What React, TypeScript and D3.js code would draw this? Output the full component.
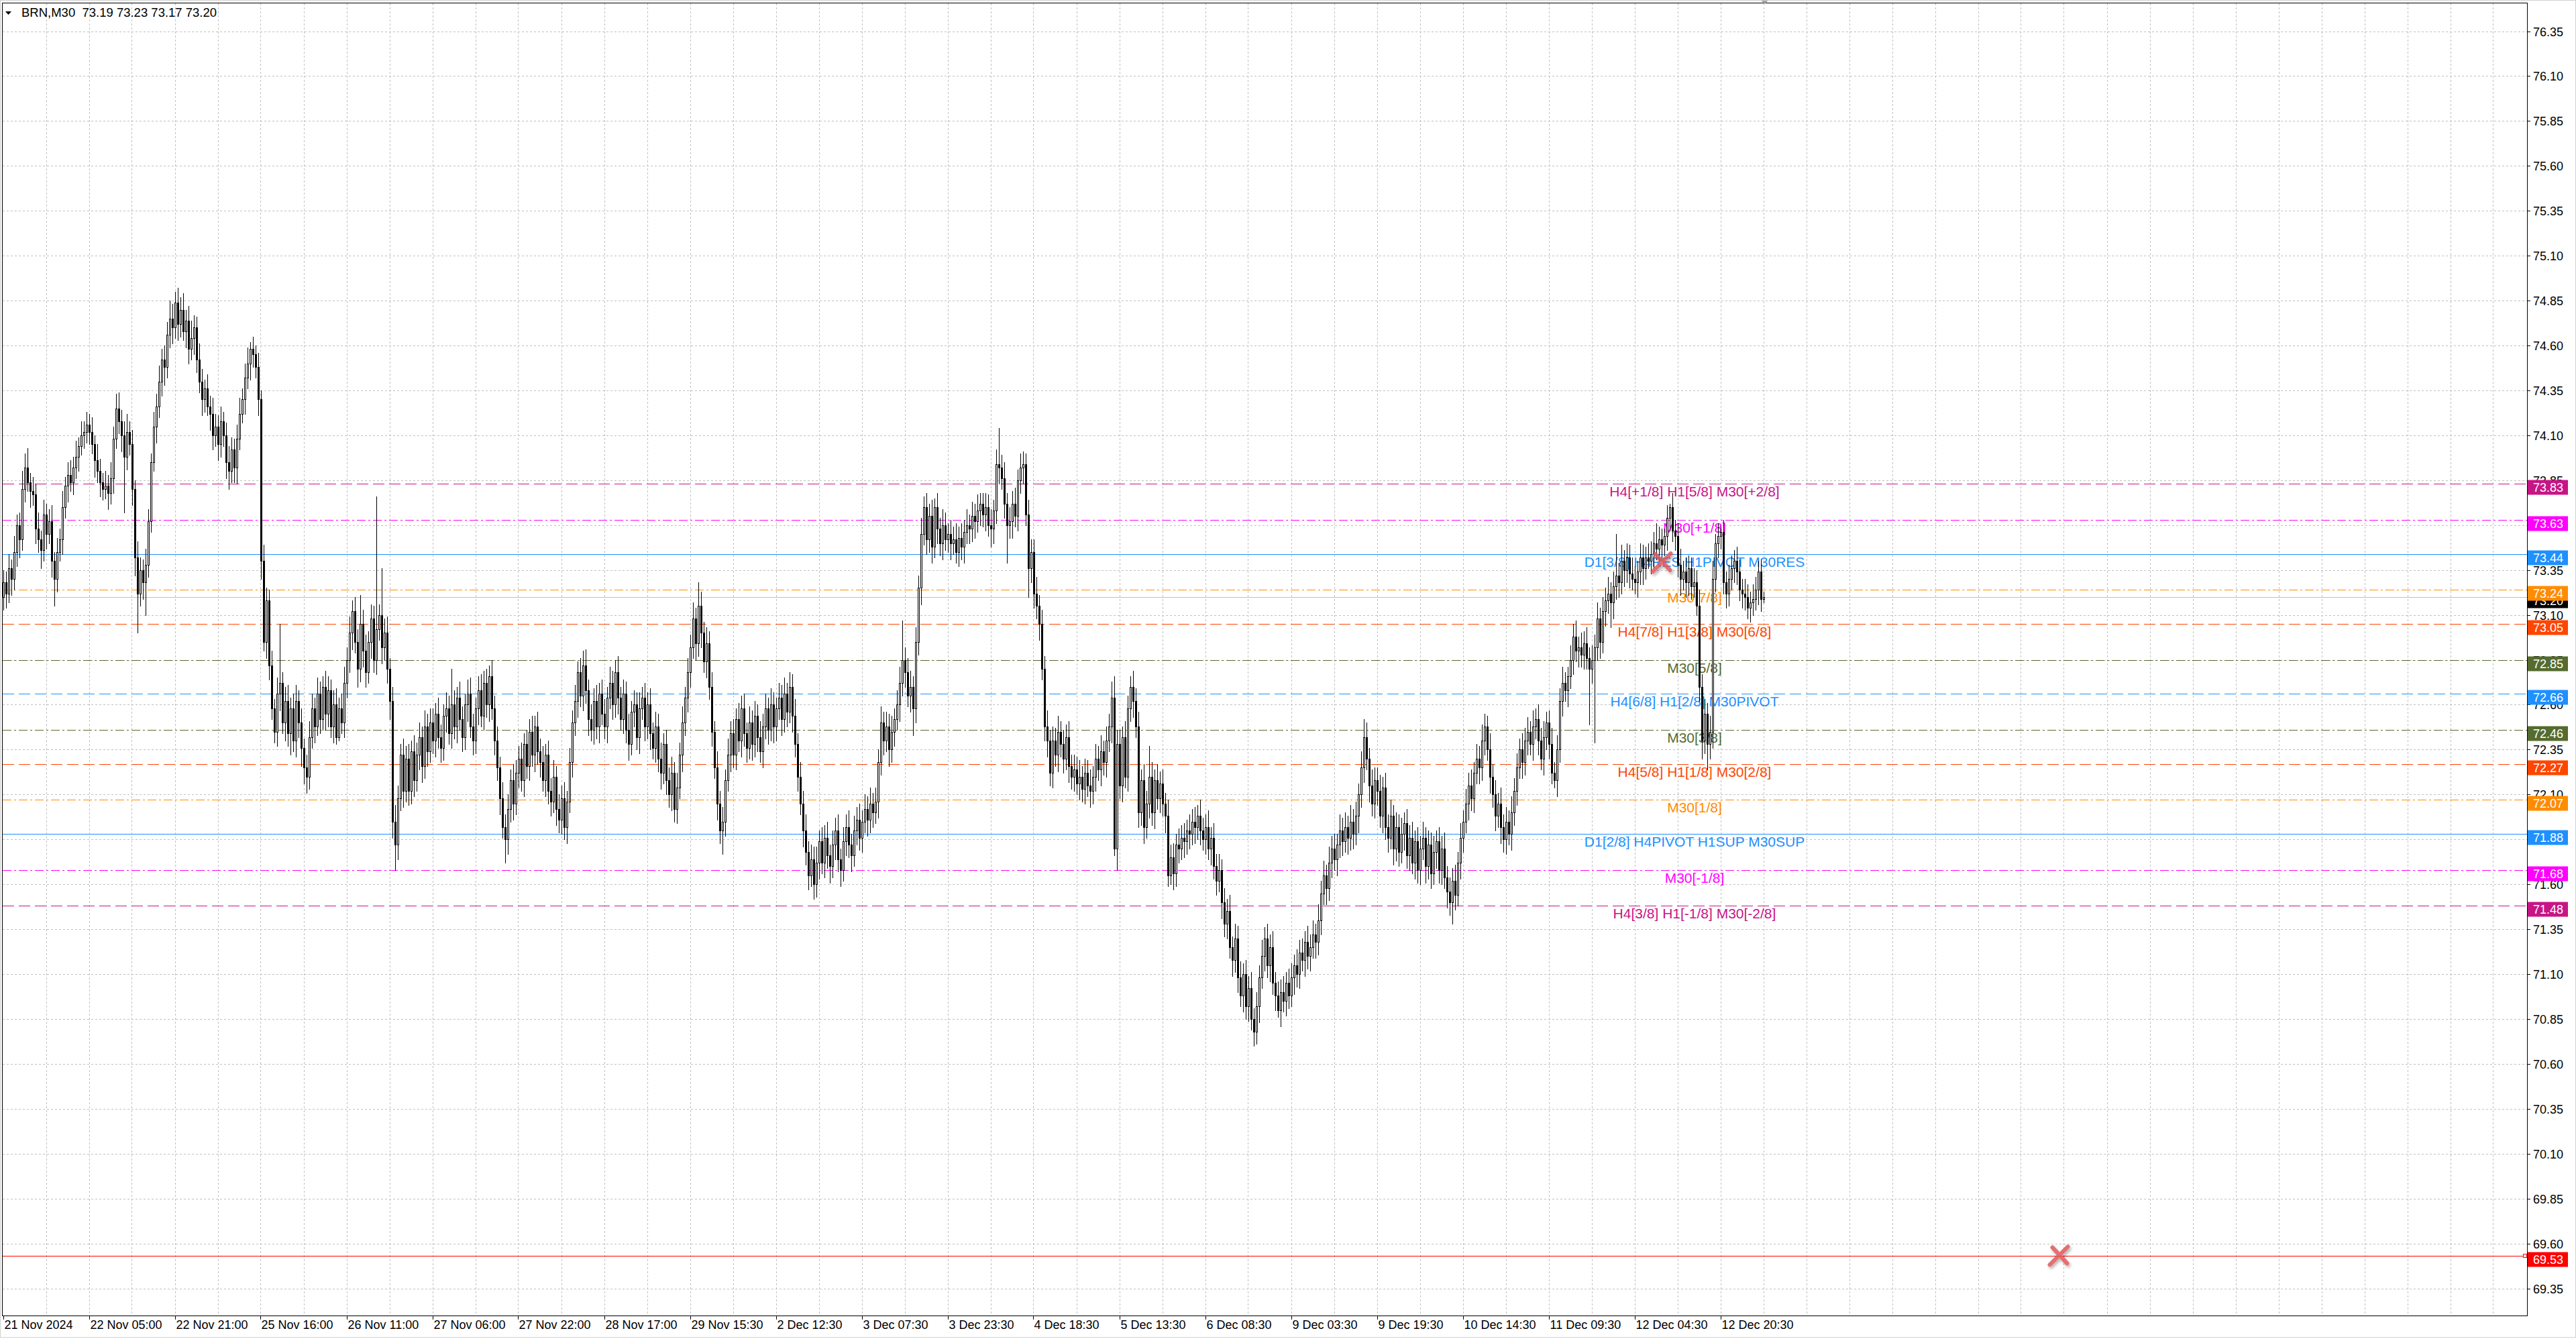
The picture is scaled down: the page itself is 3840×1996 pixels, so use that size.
import React from "react";
import * as d3 from "d3";

// BRN M30 candles, 21 Nov 13:00 .. 13 Dec 04:30 (open of each bar = previous close)
const symbolTitle = "BRN,M30";
const lastQuote = ["73.19", "73.23", "73.17", "73.20"];
const firstOpen = 73.2;

const closes = [
  // 21 Nov 2024
  73.28,73.22,73.36,73.30,73.45,73.60,73.52,73.80,73.92,73.84,73.79,73.77,73.58,73.52,73.46,73.66,73.55,73.62,73.40,73.30,73.45,73.52,73.70,73.82,73.88,73.84,73.92,73.98,74.04,74.10,74.12,74.16,
  // 22 Nov 05:00
  74.12,74.05,73.96,73.90,73.84,73.80,73.82,73.78,73.86,74.08,74.25,74.18,74.10,73.98,74.12,74.05,73.80,73.42,73.22,73.35,73.28,73.38,73.62,73.95,74.15,74.26,74.40,74.52,74.48,74.66,74.75,74.70,
  // 22 Nov 21:00
  74.84,74.72,74.80,74.68,74.74,74.58,74.64,74.70,74.52,74.40,74.30,74.36,74.26,74.22,74.10,74.15,74.05,74.18,74.10,73.95,73.90,74.02,73.92,74.08,74.22,74.30,74.42,74.50,74.58,74.55,74.48,74.30,
  // 25 Nov 16:00
  73.40,72.95,73.18,72.82,72.58,72.45,72.66,72.72,72.50,72.62,72.44,72.58,72.40,72.62,72.50,72.36,72.25,72.20,72.42,72.58,72.48,72.66,72.52,72.70,72.55,72.68,72.48,72.60,72.42,72.58,72.50,72.72,
  // 26 Nov 11:00
  72.85,73.00,73.12,72.95,72.80,73.05,72.90,72.78,72.95,73.08,72.85,73.02,73.10,72.92,73.00,72.80,72.62,71.95,71.82,72.08,72.32,72.12,72.30,72.12,72.34,72.18,72.32,72.42,72.26,72.48,72.34,72.50,
  // 27 Nov 06:00
  72.40,72.55,72.42,72.36,72.54,72.58,72.44,72.60,72.48,72.64,72.52,72.42,72.60,72.66,72.48,72.40,72.58,72.68,72.54,72.72,72.60,72.76,72.58,72.40,72.25,72.08,71.92,71.85,72.02,72.18,72.05,72.22,
  // 27 Nov 22:00
  72.30,72.18,72.38,72.26,72.45,72.32,72.48,72.34,72.28,72.18,72.32,72.12,72.06,72.20,72.02,71.96,72.08,71.92,72.06,72.28,72.50,72.62,72.78,72.65,72.82,72.68,72.52,72.46,72.62,72.48,72.66,72.55,
  // 28 Nov 17:00
  72.48,72.64,72.72,72.60,72.78,72.64,72.52,72.66,72.46,72.38,72.56,72.60,72.42,72.58,72.64,72.48,72.60,72.44,72.36,72.48,72.30,72.22,72.38,72.18,72.10,72.22,72.02,72.14,72.32,72.50,72.64,72.78,
  // 29 Nov 15:30
  72.92,73.08,72.94,73.15,73.00,72.84,72.94,72.70,72.45,72.25,72.05,71.90,71.95,72.18,72.32,72.44,72.32,72.52,72.40,72.58,72.44,72.36,72.50,72.38,72.54,72.42,72.34,72.48,72.58,72.46,72.60,72.48,
  // 2 Dec 12:30
  72.58,72.64,72.52,72.66,72.56,72.70,72.54,72.38,72.20,72.05,71.90,71.78,71.65,71.74,71.60,71.72,71.84,71.72,71.86,71.76,71.70,71.82,71.90,71.74,71.68,71.84,71.92,71.82,71.76,71.90,71.96,71.86,
  // 3 Dec 07:30
  71.95,72.02,71.96,72.05,72.00,72.06,72.28,72.50,72.40,72.48,72.35,72.45,72.52,72.60,72.72,72.85,72.78,72.65,72.70,72.58,72.95,73.25,73.55,73.70,73.52,73.65,73.48,73.70,73.58,73.50,73.60,73.52,
  // 3 Dec 23:30
  73.55,73.50,73.52,73.45,73.53,73.48,73.56,73.60,73.58,73.65,73.62,73.68,73.72,73.66,73.70,73.60,73.58,73.68,73.94,73.92,73.86,73.72,73.60,73.62,73.72,73.65,73.85,73.92,73.94,73.66,73.36,73.45,
  // 4 Dec 18:30
  73.22,73.15,73.05,72.80,72.48,72.40,72.22,72.40,72.32,72.45,72.38,72.30,72.42,72.26,72.20,72.24,72.16,72.20,72.13,72.22,72.15,72.12,72.20,72.30,72.24,72.34,72.28,72.40,72.48,72.64,71.80,72.38,
  // 5 Dec 13:30
  72.15,72.42,72.20,72.58,72.70,72.62,72.48,72.00,72.18,71.92,72.05,72.20,72.00,72.18,72.08,72.16,72.05,71.98,71.65,71.75,71.66,71.82,71.80,71.86,71.84,71.90,71.88,71.95,71.92,71.98,71.90,71.85,
  // 6 Dec 08:30
  71.92,71.80,71.86,71.70,71.62,71.68,71.50,71.38,71.45,71.25,71.18,71.30,71.08,70.98,71.10,70.92,71.02,70.85,70.78,70.92,71.08,71.20,71.30,71.15,71.25,71.05,70.98,70.90,71.00,70.95,71.05,70.98,
  // 9 Dec 03:30
  71.08,71.15,71.10,71.22,71.18,71.28,71.20,71.25,71.32,71.28,71.40,71.55,71.65,71.58,71.72,71.80,71.74,71.82,71.90,71.84,71.92,71.86,71.95,71.88,71.98,72.10,72.25,72.42,72.30,72.15,72.05,72.18,
  // 9 Dec 19:30
  72.12,71.98,72.14,71.92,71.86,71.98,71.80,71.92,71.78,71.88,71.94,71.76,71.86,71.72,71.84,71.68,71.80,71.86,71.70,71.82,71.66,71.78,71.84,71.68,71.80,71.64,71.56,71.50,71.62,71.54,71.72,71.86,
  // 10 Dec 14:30
  71.95,72.05,72.15,72.08,72.22,72.30,72.25,72.40,72.48,72.35,72.20,72.10,71.98,72.05,71.92,71.85,71.95,71.88,72.00,72.12,72.25,72.35,72.28,72.40,72.45,72.38,72.48,72.52,72.40,72.30,72.42,72.50,
  // 11 Dec 09:30
  72.38,72.22,72.18,72.35,72.62,72.72,72.68,72.76,72.85,72.98,72.90,72.92,72.88,72.94,72.86,72.80,72.85,72.92,73.08,72.95,73.12,73.18,73.22,73.17,73.26,73.32,73.28,73.40,73.35,73.42,73.33,73.30,
  // 12 Dec 04:30
  73.28,73.34,73.42,73.36,73.42,73.40,73.44,73.50,73.47,73.52,73.49,73.54,73.64,73.70,73.57,73.54,73.38,73.30,73.34,73.28,73.36,73.26,73.28,73.15,72.70,72.40,72.55,72.38,72.45,73.30,73.50,73.54,
  // 12 Dec 20:30
  73.56,73.28,73.22,73.30,73.36,73.40,73.34,73.24,73.22,73.20,73.14,73.17,73.19,73.24,73.34,73.19,73.20,
];

// upper / lower shadow of each bar, in cents
const wickHi = [
  7,6,8,5,9,6,7,10,8,11,5,8,6,9,5,8,6,7,9,5,8,6,9,5,7,8,6,9,5,8,6,7,
  6,8,5,9,7,5,8,6,9,7,8,9,6,8,10,6,8,5,9,7,6,9,7,5,8,7,9,6,8,7,10,8,
  6,8,7,9,6,8,10,7,6,9,7,5,8,6,9,7,6,8,5,7,9,7,6,8,9,6,8,9,4,7,5,8,
  5,9,7,6,8,5,9,33,6,8,9,6,8,9,6,8,5,7,9,8,6,9,7,6,9,8,6,8,9,6,8,9,
  7,9,6,8,7,16,8,9,6,8,7,74,6,26,8,9,6,8,9,7,6,9,7,8,6,9,7,8,6,9,7,8,
  8,6,9,7,6,9,7,20,8,6,9,7,6,8,9,7,6,8,9,7,8,6,9,7,8,6,9,7,8,6,9,7,
  7,9,6,8,7,9,6,8,7,9,6,8,7,9,6,8,7,9,6,8,7,9,6,8,8,9,6,8,7,9,6,8,
  8,6,9,7,7,9,6,8,7,9,6,8,7,9,6,8,7,9,6,8,7,9,6,8,7,9,6,8,7,9,6,8,
  7,9,6,13,8,6,9,7,8,6,9,7,8,6,9,7,8,6,9,7,8,6,9,7,8,6,9,7,8,6,9,7,
  6,8,7,9,6,8,7,9,6,8,7,9,6,8,7,9,6,8,7,9,6,8,7,9,6,8,7,9,6,8,7,9,
  6,8,7,9,6,8,7,9,6,8,7,9,6,8,9,22,7,8,9,6,8,7,9,6,8,7,9,5,8,6,9,7,
  6,8,7,9,6,8,7,9,6,8,7,9,6,6,8,7,9,6,8,20,7,9,6,8,7,9,6,8,7,6,8,7,
  7,9,6,8,7,9,6,8,7,9,6,8,7,9,6,8,7,9,6,8,7,9,6,8,7,9,6,8,7,9,12,8,
  8,6,9,7,6,9,7,8,6,9,7,17,8,6,9,7,8,6,9,7,8,6,9,7,8,6,9,7,8,6,9,7,
  7,9,6,8,7,9,6,8,7,9,6,8,7,9,6,8,7,9,6,8,7,9,6,8,7,9,6,8,7,9,6,8,
  8,6,9,7,8,6,9,7,8,6,9,7,8,6,9,7,8,6,9,7,8,6,9,7,8,6,9,10,8,6,9,7,
  7,9,6,8,7,9,6,8,7,9,6,8,7,9,6,8,7,9,6,8,7,9,6,8,7,9,6,8,7,9,6,8,
  6,8,7,9,6,8,7,9,7,6,9,7,8,6,9,7,8,6,9,7,8,6,9,7,8,6,9,6,8,7,9,6,
  7,9,6,8,7,9,6,5,8,7,9,6,8,7,9,6,8,7,9,6,8,7,9,6,8,23,7,9,6,8,7,9,
  7,6,8,7,6,8,7,6,11,7,6,4,7,2,8,6,7,9,6,8,7,6,8,7,9,7,8,6,9,10,5,7,
  3,7,6,8,7,6,8,7,6,8,7,6,8,7,6,7,3,
];
const wickLo = [
  7,8,5,9,6,8,10,6,7,5,9,6,8,7,10,6,8,5,9,15,7,5,8,6,9,5,7,6,8,5,7,6,
  7,5,9,6,8,6,5,9,6,8,5,7,9,31,7,6,9,10,22,7,9,18,7,6,5,9,6,8,10,6,7,9,
  6,9,7,5,9,8,6,9,7,6,9,7,5,9,8,6,9,7,6,9,10,6,8,9,6,5,8,6,9,7,6,9,
  10,5,9,8,6,6,8,9,6,10,7,12,6,9,8,10,9,9,7,6,9,5,8,6,9,7,6,9,4,2,6,8,
  8,7,9,6,10,7,9,8,6,9,7,8,6,9,7,8,10,9,14,8,7,9,6,8,7,9,6,8,9,7,8,6,
  7,9,6,8,7,9,6,8,7,9,6,8,7,9,6,8,7,9,6,8,7,9,6,8,7,9,6,13,8,7,9,6,
  8,6,9,7,8,6,9,7,8,6,9,7,8,6,9,7,8,7,9,6,8,7,9,6,8,7,9,6,8,7,9,6,
  7,9,6,8,7,9,6,8,7,9,6,8,7,9,6,8,7,9,6,8,7,9,6,8,7,9,7,8,6,9,7,8,
  8,6,9,7,8,6,9,7,8,6,9,7,13,8,6,9,7,8,6,9,7,8,6,9,7,8,6,9,7,8,6,9,
  8,6,9,7,8,6,9,7,8,6,9,7,8,6,8,7,9,6,8,7,9,6,8,7,9,6,8,7,9,6,8,7,
  8,6,9,7,8,6,9,7,8,6,9,7,8,6,9,7,8,6,9,15,8,7,9,6,8,7,9,6,8,7,9,6,
  7,9,6,6,8,7,9,6,8,7,9,6,8,7,9,6,10,8,7,9,6,8,21,7,9,6,8,7,9,6,16,8,
  8,7,9,6,8,9,7,8,6,9,7,8,6,9,7,8,6,9,7,8,6,9,7,8,6,9,7,8,6,9,4,12,
  7,9,6,8,7,9,6,8,7,9,6,8,7,9,6,8,7,9,6,5,9,7,8,6,9,7,8,6,9,7,8,6,
  8,6,9,7,8,6,9,7,8,6,9,7,8,6,9,7,8,6,8,7,9,6,8,7,9,6,8,4,9,6,8,7,
  6,9,7,8,6,9,7,8,6,9,7,8,6,9,7,8,6,9,7,8,6,9,7,8,6,9,7,8,6,9,7,8,
  8,6,9,7,8,6,9,7,8,6,9,7,8,6,9,7,8,6,9,7,8,6,9,7,8,6,9,7,12,8,6,9,
  8,6,9,7,8,6,9,7,8,6,9,7,8,6,9,7,8,6,9,7,8,6,9,7,8,6,9,7,8,6,9,7,
  8,6,4,9,7,8,6,9,7,8,6,9,7,8,6,31,8,46,7,9,6,8,7,14,9,7,8,6,9,7,8,6,
  6,8,7,9,6,4,7,8,6,7,9,6,8,7,6,8,7,9,6,8,7,7,6,5,8,10,7,14,8,9,7,8,
  7,6,8,7,6,8,7,6,8,7,6,8,7,6,8,7,2,
];

const timeLabels = [
  "21 Nov 2024", "22 Nov 05:00", "22 Nov 21:00", "25 Nov 16:00", "26 Nov 11:00",
  "27 Nov 06:00", "27 Nov 22:00", "28 Nov 17:00", "29 Nov 15:30", "2 Dec 12:30",
  "3 Dec 07:30", "3 Dec 23:30", "4 Dec 18:30", "5 Dec 13:30", "6 Dec 08:30",
  "9 Dec 03:30", "9 Dec 19:30", "10 Dec 14:30", "11 Dec 09:30", "12 Dec 04:30",
  "12 Dec 20:30",
];
const priceTicks = [
  "69.35","69.60","69.85","70.10","70.35","70.60","70.85","71.10","71.35","71.60",
  "71.85","72.10","72.35","72.60","72.85","73.10","73.35","73.60","73.85","74.10",
  "74.35","74.60","74.85","75.10","75.35","75.60","75.85","76.10","76.35",
];

// Murrey math levels
const levelPrices = [73.83, 73.63, 73.44, 73.24, 73.05, 72.85, 72.66, 72.46, 72.27, 72.07, 71.88, 71.68, 71.48];
const levelNames = [
  "H4[+1/8] H1[5/8] M30[+2/8]",
  "M30[+1/8]",
  "D1[3/8] H4RES H1PIVOT M30RES",
  "M30[7/8]",
  "H4[7/8] H1[3/8] M30[6/8]",
  "M30[5/8]",
  "H4[6/8] H1[2/8] M30PIVOT",
  "M30[3/8]",
  "H4[5/8] H1[1/8] M30[2/8]",
  "M30[1/8]",
  "D1[2/8] H4PIVOT H1SUP M30SUP",
  "M30[-1/8]",
  "H4[3/8] H1[-1/8] M30[-2/8]",
];
const bidPrice = 73.2;
const alertPrice = 69.53;
const markBars = [618, 766];
const markPrices = [73.39, 69.53];

// styles
const levelColors = ["#C71585","#FF00FF","#1E90FF","#FF8C00","#FF4500","#556B2F","#1E90FF","#556B2F","#FF4500","#FF8C00","#1E90FF","#FF00FF","#C71585"];
const DASH = "17,7";
const DASHDOT = "13,4,3,4";
const levelDash = [DASH, DASHDOT, "", DASHDOT, DASH, DASHDOT, DASH, DASHDOT, DASH, DASHDOT, "", DASHDOT, DASH];

const FONT = "'Liberation Sans', Arial, sans-serif";

export default function App() {
  const W = 3840;
  const H = 1996;
  const left = 3.5;
  const top = 4.5;
  const right = 3767.5;
  const bottom = 1961.5;

  const x = d3.scaleLinear().domain([0, 656]).range([5.5, 2629.5]);
  const y = d3.scaleLinear().domain([69.199, 76.509]).range([1961, 4]);

  const candles = closes.map((c, i) => {
    const o = i === 0 ? firstOpen : closes[i - 1];
    const h = Math.max(o, c) + wickHi[i] / 100;
    const l = Math.min(o, c) - wickLo[i] / 100;
    return { i, o, h, l, c };
  });

  const vGrid = d3.range(16, 940, 16).map((b) => Math.round(x(b)) - 0.5).filter((v) => v < right - 4);
  const py = (p: number) => Math.round(y(p)) + 0.5;

  return (
    <svg
      width={W}
      height={H}
      style={{ position: "absolute", left: 0, top: 0, background: "#fff" }}
      fontFamily={FONT}
    >
      <defs>
        <filter id="xshadow" x="-50%" y="-50%" width="200%" height="200%">
          <feDropShadow dx="2" dy="3" stdDeviation="2" floodColor="#000" floodOpacity="0.35" />
        </filter>
      </defs>
      <rect x={0} y={0} width={W} height={H} fill="#fff" />
      <rect x={0.5} y={0.5} width={W - 1} height={1993} fill="none" stroke="#d0d0d0" />

      {/* grid */}
      <g stroke="#c0c0c0" strokeWidth={1} strokeDasharray="3,3" shapeRendering="crispEdges">
        {priceTicks.map((t) => (
          <line key={t} x1={left} x2={right} y1={py(+t)} y2={py(+t)} />
        ))}
        {vGrid.map((v) => (
          <line key={v} x1={v} x2={v} y1={top} y2={bottom} />
        ))}
      </g>

      {/* level lines */}
      <g shapeRendering="crispEdges">
        <line x1={left} x2={right} y1={py(bidPrice)} y2={py(bidPrice)} stroke="#c0c0c0" />
        {levelPrices.map((p, k) => (
          <line
            key={p}
            x1={left}
            x2={right}
            y1={py(p)}
            y2={py(p)}
            stroke={levelColors[k]}
            strokeDasharray={levelDash[k] || undefined}
          />
        ))}
        <line x1={left} x2={right} y1={py(alertPrice)} y2={py(alertPrice)} stroke="#FF0000" />
        <rect x={right - 6} y={py(alertPrice) - 3} width={5} height={5} fill="#fff" stroke="#FF0000" />
      </g>

      {/* level names */}
      <g fontSize={21} textAnchor="middle">
        {levelPrices.map((p, k) => (
          <text key={p} x={2526} y={py(p) + 18} fill={levelColors[k]}>
            {levelNames[k]}
          </text>
        ))}
      </g>

      {/* candles */}
      <g shapeRendering="crispEdges">
        {candles.map((d) => {
          const cx = x(d.i);
          const yT = Math.round(y(Math.max(d.o, d.c)));
          const yB = Math.round(y(Math.min(d.o, d.c)));
          const up = d.c >= d.o;
          return (
            <g key={d.i}>
              <line x1={cx} x2={cx} y1={Math.round(y(d.h))} y2={Math.round(y(d.l)) + 1} stroke="#000" />
              {yB - yT < 1 ? (
                <line x1={cx - 1.5} x2={cx + 1.5} y1={yT + 0.5} y2={yT + 0.5} stroke="#000" />
              ) : (
                <rect
                  x={cx - 1}
                  y={yT + 0.5}
                  width={2}
                  height={yB - yT}
                  fill={up ? "#fff" : "#000"}
                  stroke="#000"
                />
              )}
            </g>
          );
        })}
      </g>

      {/* alert marks */}
      <g filter="url(#xshadow)" stroke="#e0565a" strokeWidth={6} strokeLinecap="round" opacity={0.85}>
        {markBars.map((b, k) => {
          const cx = x(b);
          const cy = y(markPrices[k]);
          return (
            <g key={b}>
              <line x1={cx + 13} y1={cy - 14} x2={cx - 14} y2={cy + 13} />
              <line x1={cx - 10} y1={cy - 13} x2={cx + 12} y2={cy + 11} />
            </g>
          );
        })}
      </g>

      {/* frame */}
      <rect x={left} y={top} width={right - left} height={bottom - top} fill="none" stroke="#000" shapeRendering="crispEdges" />
      <polygon points={`${x(656) - 4},1 ${x(656) + 6},1 ${x(656) + 1},6`} fill="#a0a0a0" />

      {/* price axis */}
      <g fontSize={18} fill="#000">
        {priceTicks.map((t) => (
          <g key={t}>
            <line x1={right} x2={right + 4} y1={py(+t)} y2={py(+t)} stroke="#000" shapeRendering="crispEdges" />
            <text x={3776} y={y(+t) + 1} dominantBaseline="central">
              {t}
            </text>
          </g>
        ))}
      </g>
      <g fontSize={18}>
        <rect x={3768} y={py(bidPrice) - 6} width={60} height={22} fill="#000" />
        <text x={3776} y={py(bidPrice) + 5} dominantBaseline="central" fill="#fff">
          {bidPrice.toFixed(2)}
        </text>
        {levelPrices.map((p, k) => (
          <g key={p}>
            <rect x={3768} y={py(p) - 6} width={60} height={22} fill={levelColors[k]} />
            <text x={3776} y={py(p) + 5} dominantBaseline="central" fill="#fff">
              {p.toFixed(2)}
            </text>
          </g>
        ))}
        <rect x={3768} y={py(alertPrice) - 6} width={60} height={22} fill="#FF0000" />
        <text x={3776} y={py(alertPrice) + 5} dominantBaseline="central" fill="#fff">
          {alertPrice.toFixed(2)}
        </text>
      </g>

      {/* time axis */}
      <g fontSize={18} fill="#000">
        {timeLabels.map((t, k) => {
          const tx = Math.round(x(k * 32)) - 0.5;
          return (
            <g key={t}>
              <line x1={tx} x2={tx} y1={bottom} y2={bottom + 5} stroke="#000" shapeRendering="crispEdges" />
              <text x={tx + 1} y={1981}>
                {t}
              </text>
            </g>
          );
        })}
      </g>

      {/* header */}
      <polygon points="8,17 17,17 12.5,22" fill="#000" />
      <text x={32} y={25} fontSize={18.5} fill="#000" style={{ whiteSpace: "pre" }}>
        {`${symbolTitle}  ${lastQuote.join(" ")}`}
      </text>
    </svg>
  );
}
